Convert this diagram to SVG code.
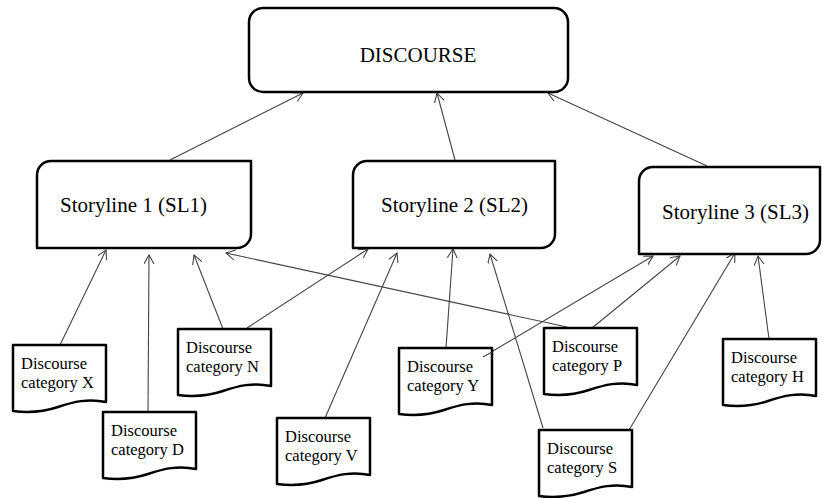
<svg xmlns="http://www.w3.org/2000/svg" width="822" height="498" viewBox="0 0 822 498">
<style>
.box{fill:#fff;stroke:#000;stroke-width:2.5;stroke-linejoin:round}
.lbl{font-family:"Liberation Serif","Times New Roman",serif;fill:#000}
.big{font-size:21px}
.sm{font-size:16.5px}
.con line{stroke:#444;stroke-width:1.1;marker-end:url(#arr)}
</style>
<defs>
<marker id="arr" markerUnits="userSpaceOnUse" markerWidth="12" markerHeight="12" refX="9" refY="5" orient="auto">
<path d="M0,0 L9,5 L0,10" fill="none" stroke="#444" stroke-width="1.1"/>
</marker>
<path id="doc" d="M0,0 H93 V57 C75,53 60,57 45,62 C30,67 15,68 0,66 Z"/>
</defs>
<rect width="822" height="498" fill="#fff"/>
<g class="con">
<line x1="170" y1="160" x2="303" y2="93"/>
<line x1="455" y1="160" x2="437" y2="93"/>
<line x1="707" y1="166" x2="548" y2="93"/>
<line x1="60" y1="345" x2="106" y2="250"/>
<line x1="148" y1="412" x2="149" y2="255"/>
<line x1="223" y1="329" x2="194" y2="255"/>
<line x1="567" y1="327" x2="226" y2="253"/>
<line x1="247" y1="328" x2="368" y2="249"/>
<line x1="325" y1="418" x2="397" y2="253"/>
<line x1="446" y1="348" x2="453" y2="249"/>
<line x1="543" y1="428" x2="490" y2="254"/>
<line x1="483" y1="357" x2="653" y2="256"/>
<line x1="592" y1="328" x2="680" y2="256"/>
<line x1="629" y1="430" x2="735" y2="253"/>
<line x1="769" y1="339" x2="758" y2="256"/>
</g>
<g id="discourse">
<rect class="box" x="249" y="8" width="319" height="84" rx="14"/>
<text class="lbl big" x="418" y="62" text-anchor="middle">DISCOURSE</text>
</g>
<g id="sl1">
<path class="box" d="M37,175 A14,14 0 0 1 51,161 H251 V234 A14,14 0 0 1 237,248 H37 Z"/>
<text class="lbl big" x="60" y="212">Storyline 1 (SL1)</text>
</g>
<g id="sl2">
<path class="box" d="M353,175 A14,14 0 0 1 367,161 H555 V234 A14,14 0 0 1 541,248 H353 Z"/>
<text class="lbl big" x="381" y="212">Storyline 2 (SL2)</text>
</g>
<g id="sl3">
<path class="box" d="M639,181 A14,14 0 0 1 653,167 H820 V240 A14,14 0 0 1 806,254 H639 Z"/>
<text class="lbl big" x="662" y="219">Storyline 3 (SL3)</text>
</g>
<g id="catX" transform="translate(13,345)">
<use href="#doc" class="box"/>
<text class="lbl sm" x="8" y="24">Discourse</text>
<text class="lbl sm" x="8" y="43">category X</text>
</g>
<g id="catD" transform="translate(103,412)">
<use href="#doc" class="box"/>
<text class="lbl sm" x="8" y="24">Discourse</text>
<text class="lbl sm" x="8" y="43">category D</text>
</g>
<g id="catN" transform="translate(178,329)">
<use href="#doc" class="box"/>
<text class="lbl sm" x="8" y="24">Discourse</text>
<text class="lbl sm" x="8" y="43">category N</text>
</g>
<g id="catV" transform="translate(277,418)">
<use href="#doc" class="box"/>
<text class="lbl sm" x="8" y="24">Discourse</text>
<text class="lbl sm" x="8" y="43">category V</text>
</g>
<g id="catY" transform="translate(399,348)">
<use href="#doc" class="box"/>
<text class="lbl sm" x="8" y="24">Discourse</text>
<text class="lbl sm" x="8" y="43">category Y</text>
</g>
<g id="catP" transform="translate(544,328)">
<use href="#doc" class="box"/>
<text class="lbl sm" x="8" y="24">Discourse</text>
<text class="lbl sm" x="8" y="43">category P</text>
</g>
<g id="catS" transform="translate(539,430)">
<use href="#doc" class="box"/>
<text class="lbl sm" x="8" y="24">Discourse</text>
<text class="lbl sm" x="8" y="43">category S</text>
</g>
<g id="catH" transform="translate(723,339)">
<use href="#doc" class="box"/>
<text class="lbl sm" x="8" y="24">Discourse</text>
<text class="lbl sm" x="8" y="43">category H</text>
</g>
<line x1="483" y1="357" x2="492" y2="352" stroke="#444" stroke-width="1.1"/>
</svg>
